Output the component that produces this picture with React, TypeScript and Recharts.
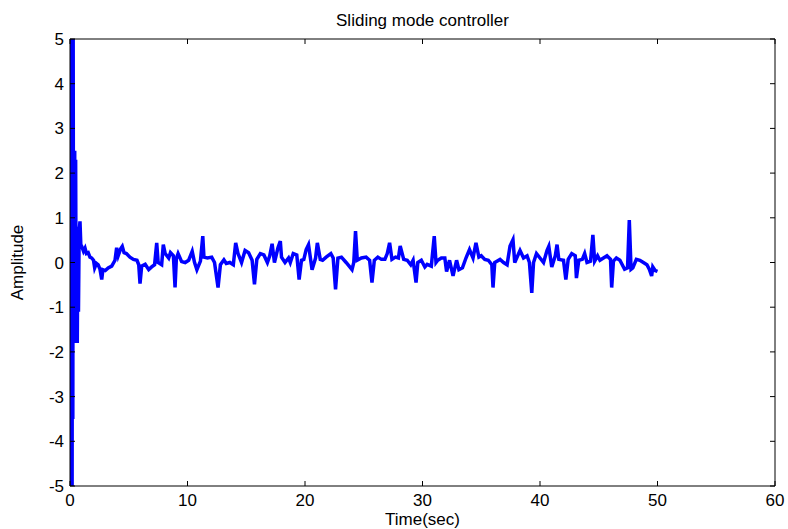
import React from 'react';
import { LineChart, Line, XAxis, YAxis, Label } from 'recharts';

const TITLE = 'Sliding mode controller';
const X_LABEL = 'Time(sec)';
const Y_LABEL = 'Amplitude';

const xTicks = [0, 10, 20, 30, 40, 50, 60];
const yTicks = [-5, -4, -3, -2, -1, 0, 1, 2, 3, 4, 5];

const times = [
  0, 0.03, 0.06, 0.09, 0.12, 0.15, 0.18, 0.21, 0.24, 0.27, 0.3, 0.33, 0.36, 0.4, 0.44, 0.48, 0.53, 0.58, 0.62, 0.67,
  0.72, 0.78, 0.85, 0.92, 1.0, 1.15, 1.28, 1.4, 1.55, 1.7, 1.85, 2.0, 2.1, 2.25, 2.4, 2.55, 2.7, 2.8, 3.0, 3.25,
  3.55, 3.83, 3.97, 4.1, 4.3, 4.45, 4.6, 4.8, 5.1, 5.4, 5.7, 5.85, 5.96, 6.1, 6.4, 6.7, 6.95, 7.2, 7.38, 7.5,
  7.8, 7.94, 8.1, 8.4, 8.55, 8.8, 8.94, 9.05, 9.2, 9.5, 9.8, 10.1, 10.4, 10.6, 10.8, 11.1, 11.3, 11.4, 11.7, 12.06,
  12.3, 12.6, 12.8, 13.1, 13.3, 13.6, 13.9, 14.1, 14.3, 14.6, 14.9, 15.2, 15.5, 15.7, 15.9, 16.2, 16.5, 16.8, 17.0, 17.2,
  17.4, 17.7, 17.9, 18.0, 18.3, 18.6, 18.75, 19.0, 19.3, 19.5, 19.7, 19.9, 20.1, 20.3, 20.6, 20.9, 21.05, 21.3, 21.5, 21.8,
  22.2, 22.4, 22.6, 22.8, 23.1, 23.5, 24.0, 24.15, 24.3, 24.45, 24.8, 25.2, 25.5, 25.7, 25.9, 26.2, 26.5, 26.8, 27.0, 27.2,
  27.4, 27.7, 27.95, 28.1, 28.4, 28.7, 29.0, 29.2, 29.45, 29.6, 29.9, 30.2, 30.4, 30.75, 31.0, 31.15, 31.3, 31.6, 31.9, 32.05,
  32.3, 32.6, 32.9, 33.1, 33.4, 33.7, 34.0, 34.3, 34.55, 34.8, 35.0, 35.3, 35.6, 35.9, 36.0, 36.15, 36.6, 36.9, 37.2, 37.3,
  37.45, 37.7, 37.85, 38.3, 38.6, 38.9, 39.1, 39.3, 39.45, 39.7, 40.0, 40.3, 40.6, 40.75, 41.0, 41.3, 41.45, 41.6, 42.0, 42.2,
  42.4, 42.7, 43.0, 43.1, 43.3, 43.6, 43.8, 44.0, 44.3, 44.5, 44.65, 44.9, 45.1, 45.4, 45.7, 46.0, 46.1, 46.25, 46.5, 46.8,
  47.2, 47.45, 47.6, 47.75, 47.9, 48.2, 48.5, 48.8, 49.1, 49.3, 49.5, 49.6, 49.8, 50.0,
];

const amplitudes = [
  -5, 5, -5, 5, -5, 5, -5, 5, -3.5, 5, -1.0, 2.5, -0.8, 2.5, -1.3, 2.3, -1.8, 0.8, -1.8, 0.6,
  -1.1, 0.7, 0.92, 0.4, 0.36, 0.25, 0.32, 0.2, 0.22, 0.12, 0.1, 0.05, -0.12, -0.02, -0.05, -0.15, -0.38, -0.16, -0.18, -0.12,
  -0.08, 0.05, 0.33, 0.15, 0.3, 0.36, 0.22, 0.2, 0.12, 0.07, 0.05, -0.05, -0.47, -0.08, -0.04, -0.16, -0.1, -0.05, 0.44, 0.0,
  -0.05, 0.4, 0.2, 0.1, 0.22, 0.15, -0.56, 0.08, 0.2, 0.02, 0.0, 0.05, 0.25, 0.0, -0.16, 0.03, 0.59, 0.12, 0.1, 0.12,
  0.0, -0.56, -0.05, 0.06, -0.02, 0.0, -0.05, 0.44, 0.2, 0.0, 0.27, 0.22, 0.05, -0.49, 0.07, 0.2, 0.17, 0.0, 0.15, 0.42,
  0.0, 0.33, 0.48, 0.12, 0.0, 0.1, 0.0, 0.2, 0.17, -0.38, 0.05, 0.07, 0.29, 0.4, -0.16, 0.1, 0.44, 0.07, 0.05, 0.12,
  0.2, 0.1, -0.6, 0.1, 0.12, 0.0, -0.16, 0.0, 0.7, 0.05, 0.1, 0.12, 0.05, -0.45, 0.05, 0.12, 0.07, 0.07, 0.2, 0.44,
  0.07, 0.12, 0.1, 0.37, 0.07, 0.05, -0.05, 0.05, -0.45, 0.0, 0.05, -0.1, -0.04, -0.08, 0.59, 0.0, 0.05, 0.1, 0.1, -0.2,
  0.05, -0.3, 0.05, -0.16, -0.12, 0.1, 0.29, 0.1, 0.44, 0.12, 0.15, 0.07, 0.05, -0.05, -0.56, 0.0, 0.07, 0.0, -0.05, 0.12,
  0.37, 0.51, 0.0, 0.27, 0.1, 0.15, 0.0, -0.68, 0.0, 0.2, 0.1, 0.0, 0.27, 0.36, -0.1, 0.15, 0.4, 0.07, 0.05, -0.38,
  0.07, 0.2, 0.15, -0.35, 0.05, 0.07, 0.2, 0.0, 0.03, 0.62, 0.03, 0.15, 0.05, 0.1, 0.15, 0.07, -0.56, 0.03, 0.1, 0.05,
  -0.15, -0.12, 0.95, -0.15, -0.12, 0.07, 0.05, 0.0, -0.05, -0.15, -0.3, -0.1, -0.18, -0.2,
];

const data = times.map((t, i) => ({ t, v: amplitudes[i] }));

const FONT = 17;
const FONT_FAMILY = '"Liberation Sans", Arial, Helvetica, sans-serif';

function BottomTick(props: any) {
  const { x, y, payload } = props;
  return (
    <g>
      <line x1={x} x2={x} y1={y} y2={y - 5} stroke="#000" />
      <text x={x} y={y + 20} textAnchor="middle" fontSize={FONT} fill="#000">
        {payload.value}
      </text>
    </g>
  );
}

function LeftTick(props: any) {
  const { x, y, payload } = props;
  return (
    <g>
      <line x1={x} x2={x + 5} y1={y} y2={y} stroke="#000" />
      <text x={x - 6} y={y + 6} textAnchor="end" fontSize={FONT} fill="#000">
        {payload.value}
      </text>
    </g>
  );
}

function TopTick(props: any) {
  const { x, y } = props;
  return <line x1={x} x2={x} y1={y} y2={y + 5} stroke="#000" />;
}

function RightTick(props: any) {
  const { x, y } = props;
  return <line x1={x} x2={x - 5} y1={y} y2={y} stroke="#000" />;
}

export default function App() {
  return (
    <div style={{ position: 'absolute', left: 0, top: 0, width: 788, height: 529, background: '#fff', fontFamily: FONT_FAMILY }}>
      <LineChart width={788} height={529} data={data} margin={{ top: 38, right: 12, bottom: 13, left: 0 }}>
        <XAxis
          xAxisId="bottom"
          dataKey="t"
          type="number"
          domain={[0, 60]}
          ticks={xTicks}
          allowDataOverflow
          orientation="bottom"
          height={30}
          tickSize={0}
          tickMargin={0}
          tick={<BottomTick />}
          tickLine={false}
          axisLine={{ stroke: '#000' }}
        >
          <Label value={X_LABEL} position="bottom" offset={-3} fontSize={FONT} fill="#000" />
        </XAxis>
        <XAxis
          xAxisId="top"
          dataKey="t"
          type="number"
          domain={[0, 60]}
          ticks={xTicks}
          allowDataOverflow
          orientation="top"
          height={1}
          tickSize={0}
          tickMargin={0}
          tick={<TopTick />}
          tickLine={false}
          axisLine={{ stroke: '#000' }}
        >
          <Label value={TITLE} position="top" offset={12} fontSize={FONT} fill="#000" />
        </XAxis>
        <YAxis
          yAxisId="left"
          type="number"
          domain={[-5, 5]}
          ticks={yTicks}
          allowDataOverflow
          orientation="left"
          width={70}
          tickSize={0}
          tickMargin={0}
          tick={<LeftTick />}
          tickLine={false}
          axisLine={{ stroke: '#000' }}
        >
          <Label value={Y_LABEL} angle={-90} position="insideLeft" offset={17} fontSize={FONT} fill="#000" style={{ textAnchor: 'middle' }} />
        </YAxis>
        <YAxis
          yAxisId="right"
          type="number"
          domain={[-5, 5]}
          ticks={yTicks}
          allowDataOverflow
          orientation="right"
          width={1}
          tickSize={0}
          tickMargin={0}
          tick={<RightTick />}
          tickLine={false}
          axisLine={{ stroke: '#000' }}
        />
        <Line
          xAxisId="bottom"
          yAxisId="left"
          type="linear"
          dataKey="v"
          stroke="#0000FF"
          strokeWidth={3.5}
          dot={false}
          activeDot={false}
          isAnimationActive={false}
        />
      </LineChart>
    </div>
  );
}
